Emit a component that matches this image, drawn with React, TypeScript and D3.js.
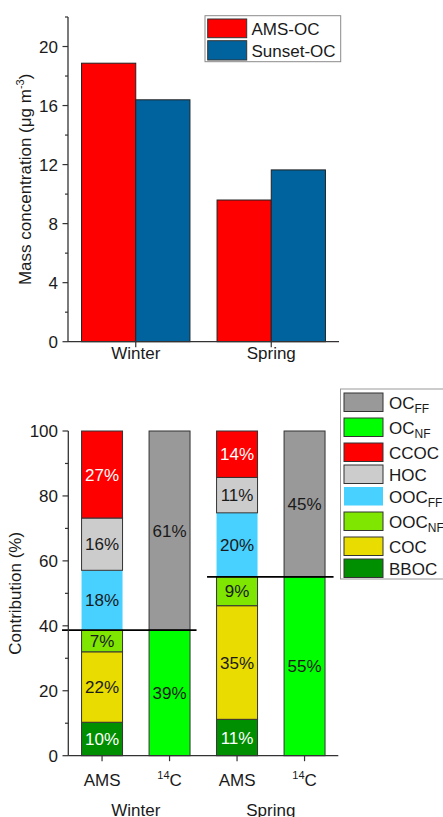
import React from "react";
import * as d3 from "d3";

// ---------- data ----------
const seasons = ["Winter", "Spring"];
const amsOC = [18.87, 9.6];
const sunsetOC = [16.39, 11.64];
const topTicks = [0, 4, 8, 12, 16, 20];
const topMinor = [2, 6, 10, 14, 18, 22];

const amsComponents = ["BBOC", "COC", "OOC_NF", "OOC_FF", "HOC", "CCOC"];
const winterAMS = [10.3, 21.7, 6.7, 18.4, 16.1, 26.8];
const springAMS = [11.2, 35.0, 8.9, 19.7, 10.9, 14.3];
const c14Components = ["OC_NF", "OC_FF"];
const winter14C = [38.7, 61.3];
const spring14C = [55.1, 44.9];
const bottomCats = ["W-AMS", "W-14C", "S-AMS", "S-14C"];
const bottomTicks = [0, 20, 40, 60, 80, 100];
const bottomMinor = [10, 30, 50, 70, 90];

const legendItems = [
  { key: "OC_FF", base: "OC", sub: "FF" },
  { key: "OC_NF", base: "OC", sub: "NF" },
  { key: "CCOC", base: "CCOC", sub: "" },
  { key: "HOC", base: "HOC", sub: "" },
  { key: "OOC_FF", base: "OOC", sub: "FF" },
  { key: "OOC_NF", base: "OOC", sub: "NF" },
  { key: "COC", base: "COC", sub: "" },
  { key: "BBOC", base: "BBOC", sub: "" },
];

const colors: Record<string, string> = {
  OC_FF: "#999999",
  OC_NF: "#00FF00",
  CCOC: "#FF0000",
  HOC: "#CCCCCC",
  OOC_FF: "#48D0FF",
  OOC_NF: "#7EE600",
  COC: "#E8DC00",
  BBOC: "#008F00",
};
const whiteText = new Set(["CCOC", "BBOC"]);
const AMS_RED = "#FF0000";
const SUNSET_BLUE = "#00639E";

const FONT = "'Liberation Sans', Arial, sans-serif";
const AX = "#333333";
const TXT = "#1a1a1a";

export default function App() {
  // ---------- top chart ----------
  const tx = d3.scalePoint<string>().domain(seasons).range([68, 339]).padding(0.5);
  const tStep = tx.step();
  const tBar = (tStep * 0.8) / 2;
  const ty = d3.scaleLinear().domain([0, 22]).range([341.7, 17]);

  // ---------- bottom chart ----------
  const bx = d3.scalePoint<string>().domain(bottomCats).range([68.3, 338.3]).padding(0.5);
  const bW = bx.step() * 0.607;
  const by = d3.scaleLinear().domain([0, 100]).range([755.7, 431]);

  const stacks = [
    { cat: "W-AMS", keys: amsComponents, vals: winterAMS },
    { cat: "W-14C", keys: c14Components, vals: winter14C },
    { cat: "S-AMS", keys: amsComponents, vals: springAMS },
    { cat: "S-14C", keys: c14Components, vals: spring14C },
  ];

  const segs: any[] = [];
  stacks.forEach((s) => {
    let acc = 0;
    s.vals.forEach((v, i) => {
      segs.push({ cat: s.cat, key: s.keys[i], y0: acc, y1: acc + v, v });
      acc += v;
    });
  });

  const dividers = [
    { y: winter14C[0], a: "W-AMS", b: "W-14C", padL: 40, padR: 27 },
    { y: spring14C[0], a: "S-AMS", b: "S-14C", padL: 30, padR: 29 },
  ];

  // legend rows
  let ly = 393;
  const legendRows = legendItems.map((it) => {
    const row = { ...it, y: ly };
    ly += it.sub ? 25 : 22;
    return row;
  });

  return (
    <svg
      width={443}
      height={817}
      style={{ position: "absolute", left: 0, top: 0, background: "#fff" }}
      fontFamily={FONT}
    >
      <rect x={0} y={0} width={443} height={817} fill="#fff" />

      {/* ===== TOP CHART ===== */}
      {seasons.map((s, i) => {
        const cx = tx(s)!;
        return (
          <g key={s}>
            <rect x={cx - tBar} y={ty(amsOC[i])} width={tBar} height={ty(0) - ty(amsOC[i])}
              fill={AMS_RED} stroke="#222" strokeWidth={1} />
            <rect x={cx} y={ty(sunsetOC[i])} width={tBar} height={ty(0) - ty(sunsetOC[i])}
              fill={SUNSET_BLUE} stroke="#222" strokeWidth={1} />
          </g>
        );
      })}
      {/* axes */}
      <line x1={68} x2={68} y1={ty(22)} y2={ty(0)} stroke={AX} strokeWidth={1.3} />
      <line x1={68} x2={339} y1={ty(0)} y2={ty(0)} stroke={AX} strokeWidth={1.3} />
      {topTicks.map((t) => (
        <g key={t}>
          <line x1={62.5} x2={68} y1={ty(t)} y2={ty(t)} stroke={AX} strokeWidth={1.2} />
          <text x={58} y={ty(t) + 6} textAnchor="end" fontSize={17} fill={TXT}>{t}</text>
        </g>
      ))}
      {topMinor.map((t) => (
        <line key={t} x1={65} x2={68} y1={ty(t)} y2={ty(t)} stroke={AX} strokeWidth={1.2} />
      ))}
      {seasons.map((s) => (
        <g key={s}>
          <line x1={tx(s)} x2={tx(s)} y1={ty(0)} y2={ty(0) + 5.5} stroke={AX} strokeWidth={1.2} />
          <text x={tx(s)} y={359} textAnchor="middle" fontSize={17} fill={TXT}>{s}</text>
        </g>
      ))}
      <text transform={`translate(31,${(ty(0) + ty(22)) / 2}) rotate(-90)`} textAnchor="middle"
        fontSize={17} fill={TXT}>
        Mass concentration (μg m<tspan dy={-7} fontSize={11}>-3</tspan><tspan dy={7}>)</tspan>
      </text>
      {/* top legend */}
      <rect x={205} y={15.7} width={135.7} height={46} fill="#fff" stroke="#8a8a8a" strokeWidth={1} />
      <rect x={207.7} y={19} width={39} height={18.7} fill={AMS_RED} stroke="#333" strokeWidth={1} />
      <rect x={207.7} y={40.7} width={39} height={19.3} fill={SUNSET_BLUE} stroke="#333" strokeWidth={1} />
      <text x={251.5} y={34.5} fontSize={17} fill={TXT}>AMS-OC</text>
      <text x={251.5} y={56.5} fontSize={17} fill={TXT}>Sunset-OC</text>

      {/* ===== BOTTOM CHART ===== */}
      {segs.map((s, i) => {
        const x0 = bx(s.cat)! - bW / 2;
        const yTop = by(s.y1);
        const yBot = by(s.y0);
        return (
          <g key={i}>
            <rect x={x0} y={yTop} width={bW} height={yBot - yTop} fill={colors[s.key]}
              stroke={s.key === "OOC_FF" ? "none" : "#333"} strokeWidth={1} />
            <text x={bx(s.cat)} y={(yTop + yBot) / 2 + 6} textAnchor="middle" fontSize={17}
              fill={whiteText.has(s.key) ? "#ffffff" : TXT}>
              {Math.round(s.v)}%
            </text>
          </g>
        );
      })}
      {dividers.map((d, i) => (
        <line key={i} x1={bx(d.a)! - d.padL} x2={bx(d.b)! + d.padR} y1={by(d.y)} y2={by(d.y)}
          stroke="#000" strokeWidth={1.8} />
      ))}
      <line x1={68.3} x2={68.3} y1={by(100)} y2={by(0)} stroke={AX} strokeWidth={1.3} />
      <line x1={68.3} x2={338.3} y1={by(0)} y2={by(0)} stroke={AX} strokeWidth={1.3} />
      {bottomTicks.map((t) => (
        <g key={t}>
          <line x1={62.5} x2={68.3} y1={by(t)} y2={by(t)} stroke={AX} strokeWidth={1.2} />
          <text x={58} y={by(t) + 6} textAnchor="end" fontSize={17} fill={TXT}>{t}</text>
        </g>
      ))}
      {bottomMinor.map((t) => (
        <line key={t} x1={65} x2={68.3} y1={by(t)} y2={by(t)} stroke={AX} strokeWidth={1.2} />
      ))}
      {bottomCats.map((c) => (
        <g key={c}>
          <line x1={bx(c)} x2={bx(c)} y1={by(0)} y2={by(0) + 5.5} stroke={AX} strokeWidth={1.2} />
          {c.endsWith("AMS") ? (
            <text x={bx(c)} y={785.7} textAnchor="middle" fontSize={17} fill={TXT}>AMS</text>
          ) : (
            <text x={bx(c)} y={785.7} textAnchor="middle" fontSize={17} fill={TXT}>
              <tspan fontSize={11} dy={-7}>14</tspan><tspan dy={7}>C</tspan>
            </text>
          )}
        </g>
      ))}
      {seasons.map((s, i) => (
        <text key={s} x={(bx(bottomCats[i * 2])! + bx(bottomCats[i * 2 + 1])!) / 2} y={816}
          textAnchor="middle" fontSize={17} fill={TXT}>{s}</text>
      ))}
      <text transform={`translate(21,${(by(0) + by(100)) / 2}) rotate(-90)`} textAnchor="middle"
        fontSize={17} fill={TXT}>Contribution (%)</text>

      {/* bottom legend */}
      <rect x={340.5} y={389} width={130} height={190} fill="#fff" stroke="#9a9a9a" strokeWidth={1} />
      {legendRows.map((r) => (
        <g key={r.key}>
          <rect x={344} y={r.y} width={39} height={18.5} fill={colors[r.key]}
            stroke={r.key === "OOC_FF" ? "none" : "#333"} strokeWidth={1} />
          <text x={389} y={r.y + 15.5} fontSize={17} fill={TXT}>
            {r.base}
            {r.sub ? <tspan fontSize={12} dy={4}>{r.sub}</tspan> : null}
          </text>
        </g>
      ))}
    </svg>
  );
}
